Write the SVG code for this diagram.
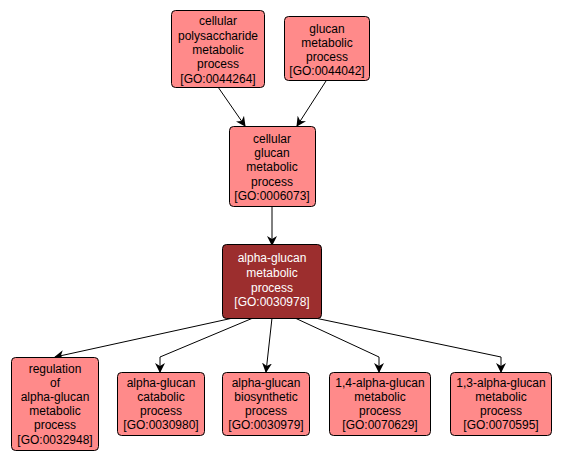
<svg xmlns="http://www.w3.org/2000/svg" width="565" height="460" viewBox="0 0 565 460">
<defs>
<marker id="arr" markerWidth="10" markerHeight="10" refX="9" refY="5" orient="auto" markerUnits="userSpaceOnUse">
<path d="M0,0 L10,5 L0,10 L3,5 Z" fill="#000"/>
</marker>
<style>
.n rect{fill:#ff8a8a;stroke:#000;stroke-width:1}
.d rect{fill:#9c2e2e;stroke:#000;stroke-width:1}
text{font-family:"Liberation Sans",Arial,sans-serif;font-size:12px;text-anchor:middle;fill:#000}
.d text{fill:#fff}
.e path{fill:none;stroke:#000;stroke-width:1;marker-end:url(#arr)}
</style>
</defs>
<rect width="565" height="460" fill="#fff"/>
<g class="e" id="edges">
<path d="M218,87 L245,126"/>
<path d="M326,81 L297,126"/>
<path d="M272,206 L272,245"/>
<path d="M233,318 L55,357"/>
<path d="M253,318 L160,357 L160,372"/>
<path d="M272,318 L266,372"/>
<path d="M295,318 L379,357 L379,372"/>
<path d="M315,318 L501,357 L501,372"/>
</g>
<g class="n" id="GO0044264">
<rect x="171.5" y="10.5" width="93" height="77" rx="4"/>
<text x="218" y="25">cellular</text>
<text x="218" y="39.5">polysaccharide</text>
<text x="218" y="54">metabolic</text>
<text x="218" y="68">process</text>
<text x="218" y="82.5">[GO:0044264]</text>
</g>
<g class="n" id="GO0044042">
<rect x="284.5" y="16.5" width="85" height="64" rx="4"/>
<text x="327" y="33">glucan</text>
<text x="327" y="47">metabolic</text>
<text x="327" y="61">process</text>
<text x="327" y="75">[GO:0044042]</text>
</g>
<g class="n" id="GO0006073">
<rect x="229.5" y="126.5" width="86" height="80" rx="4"/>
<text x="272" y="143">cellular</text>
<text x="272" y="157">glucan</text>
<text x="272" y="171">metabolic</text>
<text x="272" y="185.5">process</text>
<text x="272" y="199.5">[GO:0006073]</text>
</g>
<g class="d" id="GO0030978">
<rect x="222.5" y="244.5" width="99" height="74" rx="4"/>
<text x="272" y="262">alpha-glucan</text>
<text x="272" y="277">metabolic</text>
<text x="272" y="291.5">process</text>
<text x="272" y="306">[GO:0030978]</text>
</g>
<g class="n" id="GO0032948">
<rect x="11.5" y="357.5" width="87" height="93" rx="4"/>
<text x="55" y="373">regulation</text>
<text x="55" y="387">of</text>
<text x="55" y="401">alpha-glucan</text>
<text x="55" y="415">metabolic</text>
<text x="55" y="429">process</text>
<text x="55" y="443.5">[GO:0032948]</text>
</g>
<g class="n" id="GO0030980">
<rect x="117.5" y="372.5" width="87" height="63" rx="4"/>
<text x="161" y="387">alpha-glucan</text>
<text x="161" y="401">catabolic</text>
<text x="161" y="415">process</text>
<text x="161" y="429">[GO:0030980]</text>
</g>
<g class="n" id="GO0030979">
<rect x="222.5" y="372.5" width="87" height="63" rx="4"/>
<text x="266" y="387">alpha-glucan</text>
<text x="266" y="401">biosynthetic</text>
<text x="266" y="415">process</text>
<text x="266" y="429">[GO:0030979]</text>
</g>
<g class="n" id="GO0070629">
<rect x="329.5" y="372.5" width="101" height="63" rx="4"/>
<text x="380" y="387">1,4-alpha-glucan</text>
<text x="380" y="401">metabolic</text>
<text x="380" y="415">process</text>
<text x="380" y="429">[GO:0070629]</text>
</g>
<g class="n" id="GO0070595">
<rect x="450.5" y="372.5" width="101" height="63" rx="4"/>
<text x="501" y="387">1,3-alpha-glucan</text>
<text x="501" y="401">metabolic</text>
<text x="501" y="415">process</text>
<text x="501" y="429">[GO:0070595]</text>
</g>
</svg>
